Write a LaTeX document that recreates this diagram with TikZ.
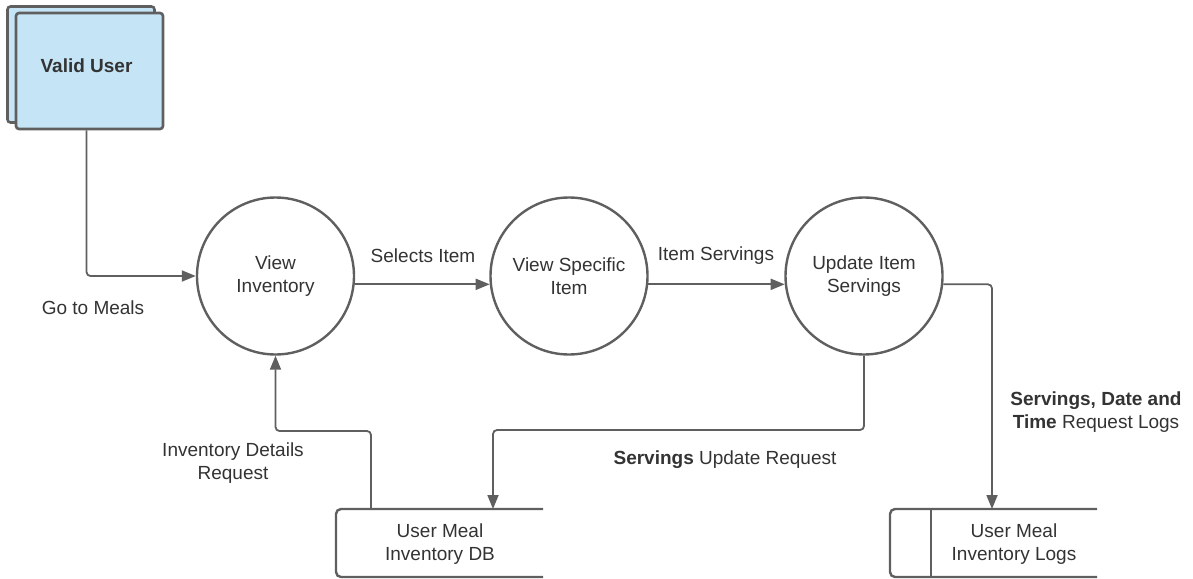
\documentclass[tikz,border=0pt]{standalone}
\usepackage{fontspec}
\setmainfont{Liberation Sans}
\usetikzlibrary{arrows.meta}
\definecolor{edge}{HTML}{5F5F5F}
\definecolor{ink}{HTML}{333333}
\definecolor{userfill}{HTML}{C5E5F7}

\begin{document}
\begin{tikzpicture}[x=1pt,y=-1pt,
  every node/.style={font=\fontsize{19}{23}\selectfont, text=ink},
  proc/.style={circle, draw=edge, line width=2.4pt, minimum size=157pt, inner sep=0pt, align=center},
  entity/.style={draw=edge, line width=2.6pt, fill=userfill, rounded corners=3pt,
                 minimum width=147pt, minimum height=116pt, inner sep=0pt},
  flow/.style={draw=edge, line width=1.8pt, rounded corners=4pt,
               -{Triangle[length=14pt,width=11pt]}},
  lbl/.style={align=center},
  store/.style={draw=edge, line width=2.4pt, rounded corners=5pt}
]
\useasboundingbox (0,0) rectangle (1193,578);

% external entity (stacked)
\node[entity] (vuback) at (81,64.5) {};
\node[entity] (vu) at (89.5,71) {};
\node[font=\fontsize{19}{23}\selectfont\bfseries] (vulabel) at (86.5,66) {Valid User};

% processes
\node[proc] (c1) at (275.5,276) {View\\Inventory};
\node[proc] (c2) at (569,276) {View Specific\\Item};
\node[proc] (c3) at (864,276) {Update Item\\Servings};

% data stores
\draw[store] (543,509) -- (336,509) -- (336,577) -- (543,577);
\node[lbl] (db) at (440,544) {User Meal\\Inventory DB};
\draw[store] (1097,509) -- (890,509) -- (890,577) -- (1097,577);
\draw[draw=edge, line width=2.4pt] (931,509) -- (931,577);
\node[lbl] (logs) at (1014,544) {User Meal\\Inventory Logs};

% connection points on the stores and bus levels
\coordinate (dbin) at (493,509);
\coordinate (dbout) at (371,509);
\coordinate (logsin) at (992,509);
\coordinate (busA) at (0,431);
\coordinate (busB) at (0,430);

% flows
\draw[flow] (vu.south -| vulabel.center) |- (c1.west);
\draw[flow] (c1.-6) -- (c2.186);
\draw[flow] (c2.-6) -- (c3.186);
\draw[flow] (c3.south) -- (c3.south |- busB) -| (dbin);
\draw[flow] (dbout) -- (dbout |- busA) -| (c1.south);
\draw[flow] (c3.-6) -| (logsin);

% flow labels
\node[lbl] (l1) at (93,308) {Go to Meals};
\node (l2) at (423,256) {Selects Item};
\node (l3) at (716,256) {Item Servings};
\node[lbl] (l4) at (233,463) {Inventory Details\\Request};
\node (l5) at (725,460) {\textbf{Servings} Update Request};
\node[lbl] (l6) at (1096,412) {\textbf{Servings, Date and}\\\textbf{Time} Request Logs};
\end{tikzpicture}
\end{document}
